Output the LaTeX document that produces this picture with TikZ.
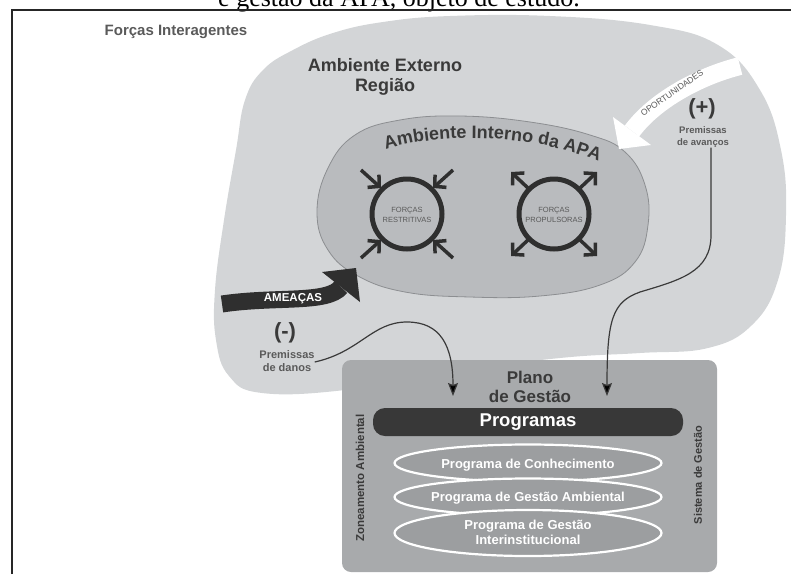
\documentclass[tikz,border=0pt]{standalone}
\usepackage{fontspec}
\setmainfont{Liberation Sans}
\newfontfamily\capfont{Liberation Serif}
\usetikzlibrary{arrows.meta,decorations.text,shapes.geometric}
\definecolor{outerbg}{HTML}{D3D5D7}
\definecolor{innerbg}{HTML}{B9BBBE}
\definecolor{innerln}{HTML}{8C8E91}
\definecolor{boxbg}{HTML}{A8AAAC}
\definecolor{ellbg}{HTML}{9C9EA0}
\definecolor{barbg}{HTML}{383838}
\definecolor{dk}{HTML}{2F2F2F}
\definecolor{txt}{HTML}{3A3A3A}
\definecolor{ltxt}{HTML}{5A5A5A}
\newcommand\fsz[2]{\fontsize{#1}{#2}\selectfont}
\begin{document}
\begin{tikzpicture}[x=1pt,y=-1pt,
  forca/.style={line width=3.5pt, draw=dk, -{Straight Barb[length=8pt,width=17pt]}},
  conn/.style={line width=1.2pt, draw=txt, -{Stealth[length=13pt,width=10pt,inset=2pt]}},
  lbl/.style={text=txt, font=\bfseries\fsz{18}{20}, align=center, inner sep=0pt},
  circtxt/.style={text=ltxt, font=\fsz{7.5}{10}, align=center, inner sep=0pt},
  progell/.style={ellipse, draw=white, line width=2.2pt, fill=ellbg, minimum width=267pt, inner sep=0pt},
  progtxt/.style={text=white, font=\bfseries\fsz{13}{15}, align=center, inner sep=0pt},
  sidetxt/.style={rotate=90, text=txt, font=\bfseries\fsz{11}{12}, inner sep=0pt}
]
\useasboundingbox (0,0) rectangle (791,574);

% caption fragment and frame
\node[anchor=base, font=\capfont\fsz{26}{30}, inner sep=0pt] (caption) at (399,6.5) {e gestão da APA, objeto de estudo.};
\draw[line width=1.5pt, draw=black!85] (12,574) -- (12,10) -- (791,10);

\node[text=ltxt, font=\bfseries\fsz{15}{17}, inner sep=0pt] (forcas) at (176,32) {Forças Interagentes};

% outer environment
\fill[outerbg] plot[smooth cycle, tension=0.7] coordinates {
 (236,150) (245,100) (263,70) (293,50) (333,33) (383,22) (450,16) (550,16)
 (650,25) (718,45) (760,90) (781,150) (786,215) (778,280) (752,325) (708,348)
 (640,353) (560,358) (450,372) (345,390) (262,393) (229,376) (216,340)
 (215,290) (224,220)};

% inner environment
\filldraw[fill=innerbg, draw=innerln, line width=0.8pt] plot[smooth cycle, tension=0.7] coordinates {
 (317,212) (328,168) (355,135) (400,120) (460,116) (530,122) (590,135)
 (625,152) (645,185) (648,225) (635,262) (600,285) (540,296) (470,297)
 (405,292) (358,276) (328,250)};

\node[lbl] (externo) at (385,77) {Ambiente Externo\\Região};

\path[decorate, decoration={text along path, text align=center, text color=txt,
  text={|\bfseries\fsz{18}{20}|Ambiente Interno da APA}}]
  (378,152) .. controls (430,133) and (530,130) .. (606,165);

% forces restrictive
\node[circle, draw=dk, line width=5pt, minimum size=70pt, inner sep=0pt] (restr) at (407,214) {};
\node[circtxt] (restrtxt) at (407,215) {FORÇAS\\RESTRITIVAS};
\draw[forca] (361,170) -- (381,188);
\draw[forca] (453,170) -- (433,188);
\draw[forca] (361,258) -- (381,240);
\draw[forca] (453,258) -- (433,240);

% forces propulsive
\node[circle, draw=dk, line width=5pt, minimum size=70pt, inner sep=0pt] (prop) at (554,214) {};
\node[circtxt] (proptxt) at (554,215) {FORÇAS\\PROPULSORAS};
\draw[forca] (529,189) -- (511,172);
\draw[forca] (579,189) -- (597,172);
\draw[forca] (529,239) -- (511,256);
\draw[forca] (579,239) -- (597,256);

% threats arrow
\draw[line width=17pt, draw=dk] (222,304) .. controls (275,296) and (328,304) .. (341,287);
\fill[dk] (322,272) -- (356,268) -- (360,302) -- cycle;
\node[text=white, font=\bfseries\fsz{11.5}{12}, inner sep=0pt] (ameacas) at (293,299) {AMEAÇAS};

% opportunities arrow
\draw[line width=18pt, draw=white] (740,66) .. controls (700,76) and (655,100) .. (632,131);
\fill[white] (613,117) -- (619,149) -- (651,145) -- cycle;
\node[text=ltxt, font=\fsz{8.5}{10}, rotate=35, inner sep=0pt] (oport) at (672,93) {OPORTUNIDADES};

% premises
\node[text=txt, font=\bfseries\fsz{22}{24}, inner sep=0pt] (mais) at (702,109) {(+)};
\node[text=ltxt, font=\bfseries\fsz{9.5}{12}, align=center, inner sep=0pt] (pav) at (703,137) {Premissas\\de avanços};
\node[text=txt, font=\bfseries\fsz{22}{24}, inner sep=0pt] (menos) at (285,333) {(-)};
\node[text=ltxt, font=\bfseries\fsz{11}{12.5}, align=center, inner sep=0pt] (pdan) at (287,361) {Premissas\\de danos};

% management plan
\node[fill=boxbg, rounded corners=9pt, minimum width=375pt, minimum height=212pt, inner sep=0pt] (plano) at (529.5,466) {};
\node[lbl, font=\bfseries\fsz{17}{19}, text=txt] (planotxt) at (530,387) {Plano\\de Gestão};
\node[fill=barbg, rounded corners=12pt, minimum width=310pt, minimum height=28pt, text=white,
  font=\bfseries\fsz{18.5}{20}, inner sep=0pt] (prog) at (528,422) {Programas};

\node[progell, minimum height=37pt] (e1) at (528,463) {};
\node[progell, minimum height=37pt] (e2) at (528,497) {};
\node[progell, minimum height=46pt] (e3) at (528,533) {};
\node[progtxt] (t1) at (528,465) {Programa de Conhecimento};
\node[progtxt] (t2) at (528,498) {Programa de Gestão Ambiental};
\node[progtxt] (t3) at (528,532) {Programa de Gestão\\Interinstitucional};

\node[sidetxt, font=\bfseries\fsz{11.5}{12}] (zon) at (360,478) {Zoneamento Ambiental};
\node[sidetxt] (sis) at (698,475) {Sistema de Gestão};

% connectors
\coordinate (endL) at (453,396);
\coordinate (endR) at (607,396);
\draw[conn] ([yshift=-1pt]pdan.east) .. controls (360,352) and (372,322) .. (407,322)
  .. controls (440,322) and (453,345) .. (endL);
\draw[conn] ([xshift=8pt]pav.south) -- (711,235) .. controls (711,272) and (680,280) .. (640,292)
  .. controls (612,302) and (607,320) .. (endR);
\end{tikzpicture}
\end{document}
